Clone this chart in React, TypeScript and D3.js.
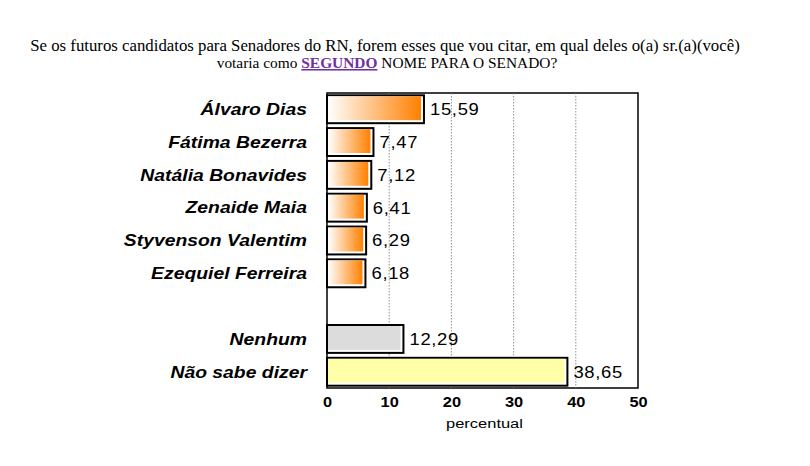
import { useEffect, useRef } from "react";
import * as d3 from "d3";

const candidates = [
  "Álvaro Dias",
  "Fátima Bezerra",
  "Natália Bonavides",
  "Zenaide Maia",
  "Styvenson Valentim",
  "Ezequiel Ferreira",
  "",
  "Nenhum",
  "Não sabe dizer",
];
const values = [15.59, 7.47, 7.12, 6.41, 6.29, 6.18, NaN, 12.29, 38.65];
const xTicks = [0, 10, 20, 30, 40, 50];

const WIDTH = 810;
const HEIGHT = 466;
const SANS = "'Liberation Sans', Arial, sans-serif";

export default function App() {
  const ref = useRef<SVGSVGElement>(null);

  useEffect(() => {
    if (!ref.current) return;
    const root = d3.select(ref.current);
    root.selectAll("*").remove();

    const margin = { top: 93, left: 327, right: 172, bottom: 78 };
    const innerWidth = WIDTH - margin.left - margin.right;
    const innerHeight = HEIGHT - margin.top - margin.bottom;

    const defs = root.append("defs");
    const grad = defs
      .append("linearGradient")
      .attr("id", "orangeGrad")
      .attr("x1", "0%")
      .attr("x2", "100%");
    grad.append("stop").attr("offset", "0%").attr("stop-color", "#ffffff");
    grad.append("stop").attr("offset", "100%").attr("stop-color", "#ff8000");

    // title
    const title = root
      .append("text")
      .attr("text-anchor", "middle")
      .style("font-family", "'Liberation Serif', serif")
      .attr("fill", "#000");
    title
      .append("tspan")
      .attr("x", 385)
      .attr("y", 51)
      .style("font-size", "16.8px")
      .text(
        "Se os futuros candidatos para Senadores do RN, forem esses que vou citar, em qual deles o(a) sr.(a)(você)"
      );
    const l2 = title
      .append("tspan")
      .attr("x", 387)
      .attr("y", 68)
      .style("font-size", "15.4px");
    l2.append("tspan").text("votaria como ");
    l2.append("tspan")
      .attr("fill", "#7030a0")
      .attr("font-weight", "bold")
      .attr("text-decoration", "underline")
      .text("SEGUNDO");
    l2.append("tspan").text(" NOME PARA O SENADO?");

    const svg = root
      .append("g")
      .attr("transform", `translate(${margin.left},${margin.top})`);

    const x = d3.scaleLinear().domain([0, 50]).range([0, innerWidth]);
    const y = d3
      .scaleBand<number>()
      .domain(d3.range(candidates.length))
      .range([0, innerHeight])
      .paddingInner(0.15)
      .paddingOuter(0.07);

    // frame
    svg
      .append("rect")
      .attr("width", innerWidth)
      .attr("height", innerHeight)
      .attr("fill", "#fff")
      .attr("stroke", "#000")
      .attr("stroke-width", 1.5);

    // dotted grid
    svg
      .selectAll("line.grid")
      .data(xTicks.slice(1, -1))
      .join("line")
      .attr("x1", (d) => x(d))
      .attr("x2", (d) => x(d))
      .attr("y1", 0)
      .attr("y2", innerHeight)
      .attr("stroke", "#777")
      .attr("stroke-width", 0.8)
      .attr("stroke-dasharray", "1.5,1.5");

    const fillFor = (i: number) =>
      i === 7 ? "#dcdcdc" : i === 8 ? "#ffffa8" : "url(#orangeGrad)";

    const rows = candidates
      .map((c, i) => ({ c, i, v: values[i] }))
      .filter((d) => !isNaN(d.v));

    const bars = svg.selectAll("g.bar").data(rows).join("g");
    bars
      .append("rect")
      .attr("x", 0)
      .attr("y", (d) => y(d.i)!)
      .attr("width", (d) => x(d.v))
      .attr("height", y.bandwidth())
      .attr("fill", "#fff")
      .attr("stroke", "#000")
      .attr("stroke-width", 2);
    bars
      .append("rect")
      .attr("x", 1)
      .attr("y", (d) => y(d.i)! + 1)
      .attr("width", (d) => Math.max(0, x(d.v) - 4))
      .attr("height", y.bandwidth() - 4)
      .attr("fill", (d) => fillFor(d.i));

    // value labels (glyphs are stretched wide in the original)
    bars
      .append("text")
      .attr(
        "transform",
        (d) =>
          `translate(${x(d.v) + 6},${y(d.i)! + y.bandwidth() / 2}) scale(1.12,1)`
      )
      .attr("dy", "0.36em")
      .style("font-family", SANS)
      .style("font-size", "16.5px")
      .style("letter-spacing", "0.6px")
      .attr("fill", "#000")
      .text((d) => d.v.toFixed(2).replace(".", ","));

    // category labels
    svg
      .selectAll("text.cat")
      .data(rows)
      .join("text")
      .attr(
        "transform",
        (d) => `translate(-20,${y(d.i)! + y.bandwidth() / 2}) scale(1.21,1)`
      )
      .attr("dy", "0.36em")
      .attr("text-anchor", "end")
      .style("font-family", SANS)
      .style("font-size", "16px")
      .style("font-weight", "bold")
      .style("font-style", "italic")
      .attr("fill", "#000")
      .text((d) => d.c);

    // x axis
    const axis = svg
      .append("g")
      .attr("transform", `translate(0,${innerHeight})`)
      .call(d3.axisBottom(x).tickValues(xTicks).tickSize(0).tickPadding(0));
    axis.select(".domain").remove();
    axis
      .selectAll("text")
      .attr("y", 0)
      .attr("dy", 0)
      .attr("transform", "translate(0,19) scale(1.17,1)")
      .style("font-family", SANS)
      .style("font-size", "14px")
      .style("font-weight", "bold")
      .attr("fill", "#000");

    svg
      .append("text")
      .attr("transform", `translate(${innerWidth / 2 + 2},${innerHeight + 40}) scale(1.22,1)`)
      .attr("text-anchor", "middle")
      .style("font-family", SANS)
      .style("font-size", "13.5px")
      .attr("fill", "#000")
      .text("percentual");
  }, []);

  return (
    <svg
      ref={ref}
      width={WIDTH}
      height={HEIGHT}
      style={{ position: "absolute", left: 0, top: 0, background: "#fff" }}
    />
  );
}
